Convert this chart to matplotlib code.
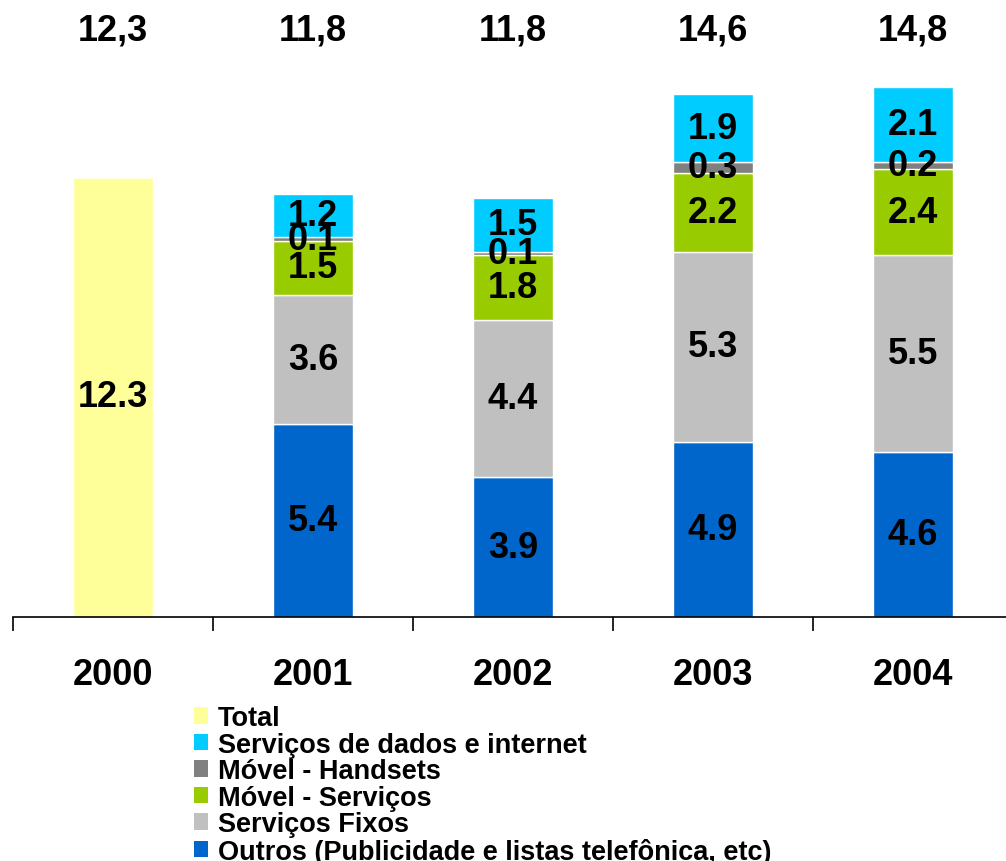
import matplotlib.pyplot as plt
from matplotlib.patches import Patch
import numpy as np

plt.rcParams['font.family'] = ['Liberation Sans', 'DejaVu Sans']
plt.rcParams['font.weight'] = 'bold'

anos = ["2000", "2001", "2002", "2003", "2004"]
totais_txt = ["12,3", "11,8", "11,8", "14,6", "14,8"]

total = [12.3, 0, 0, 0, 0]
outros = [0, 5.4, 3.9, 4.9, 4.6]
fixos = [0, 3.6, 4.4, 5.3, 5.5]
movel_serv = [0, 1.5, 1.8, 2.2, 2.4]
movel_hand = [0, 0.1, 0.1, 0.3, 0.2]
dados = [0, 1.2, 1.5, 1.9, 2.1]

series = [
    ("Total", total, "#FFFF99"),
    ("Outros (Publicidade e listas telefônica, etc)", outros, "#0066CC"),
    ("Serviços Fixos", fixos, "#C0C0C0"),
    ("Móvel - Serviços", movel_serv, "#99CC00"),
    ("Móvel - Handsets", movel_hand, "#808080"),
    ("Serviços de dados e internet", dados, "#00CCFF"),
]

fig = plt.figure(figsize=(10.06, 8.62), dpi=100)
W, H = 1006, 862
ax = fig.add_axes([13 / W, (H - 618) / H, 1000 / W, 555 / H])

x = np.arange(len(anos))
base = np.zeros(len(anos))
for nome, vals, cor in series:
    vals = np.array(vals, dtype=float)
    ax.bar(x, vals, width=0.4, bottom=base, color=cor, edgecolor="white", linewidth=1)
    for i, v in enumerate(vals):
        if v > 0:
            # os rótulos pequenos se sobrepõem como no original
            ax.text(x[i], base[i] + v / 2, f"{v:.1f}", ha="center", va="center",
                    fontsize=26, fontweight="bold", color="black")
    base += vals

for i, t in enumerate(totais_txt):
    ax.text(x[i], 16.4, t, ha="center", va="center", fontsize=26,
            fontweight="bold", clip_on=False)

ax.set_xlim(-0.5, 4.5)
ax.set_ylim(0, 15.5)
ax.set_yticks([])
for s in ["top", "right", "left"]:
    ax.spines[s].set_visible(False)
ax.spines["bottom"].set_linewidth(1.2)
ax.set_xticks(np.arange(-0.5, 5.0, 1.0))
ax.set_xticklabels([])
ax.tick_params(axis="x", direction="out", length=10, width=1.2)
for i, a in enumerate(anos):
    ax.text(x[i], -1.6, a, ha="center", va="center", fontsize=26,
            fontweight="bold", clip_on=False)

handles = [Patch(facecolor=c, edgecolor="none", label=n) for n, _, c in
           [series[0], series[5], series[4], series[3], series[2], series[1]]]
fig.legend(handles=handles, loc="upper left", bbox_to_anchor=(194 / W, 1 - 706 / H),
           frameon=False, prop={"weight": "bold", "size": 19.5},
           handlelength=0.52, handleheight=0.55, handletextpad=0.35,
           labelspacing=0.02, borderpad=0, borderaxespad=0)

fig.savefig("out.png", dpi=100)
